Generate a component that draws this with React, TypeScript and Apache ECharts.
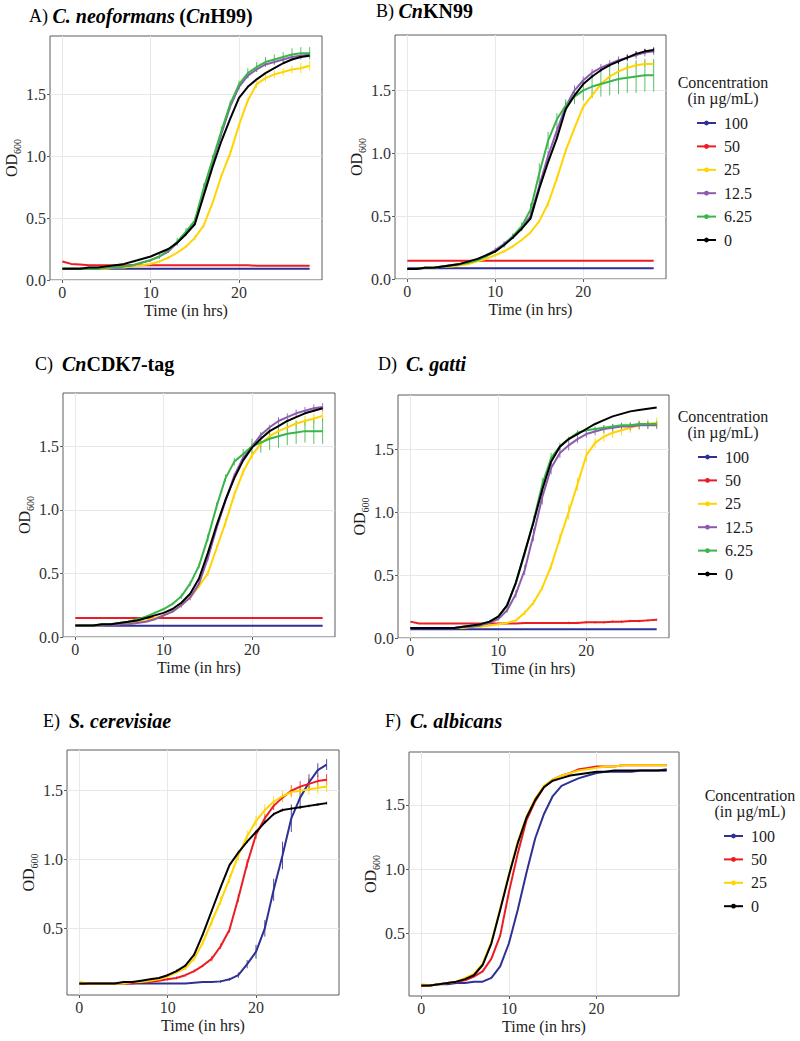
import React, { useEffect, useRef } from "react";
import * as echarts from "echarts";

const SERIF = '"Liberation Serif", "Times New Roman", serif';

// Sampling times (hours)
const TIME = [0, 1, 2, 3, 4, 5, 6, 7, 8, 9, 10, 11, 12, 13, 14, 15, 16, 17, 18, 19, 20, 21, 22, 23, 24, 25, 26, 27, 28];

const CONC_FULL = ["100", "50", "25", "12.5", "6.25", "0"];
const CONC_SHORT = ["100", "50", "25", "0"];

const X_TICKS = [0, 10, 20];
const Y_TICKS_FULL = [0, 0.5, 1, 1.5];
const Y_TICKS_SHORT = [0.5, 1, 1.5];

const COLORS: Record<string, string> = {
  "100": "#2E3192",
  "50": "#EC1C24",
  "25": "#FFD400",
  "12.5": "#8C5BB0",
  "6.25": "#3AB54A",
  "0": "#000000",
};

// ---- A) C. neoformans (CnH99) ----
const A_100 = [0.09, 0.09, 0.09, 0.09, 0.09, 0.09, 0.09, 0.09, 0.09, 0.09, 0.09, 0.09, 0.09, 0.09, 0.09, 0.09, 0.09, 0.09, 0.09, 0.09, 0.09, 0.09, 0.09, 0.09, 0.09, 0.09, 0.09, 0.09, 0.09];
const A_50 = [0.15, 0.13, 0.125, 0.12, 0.12, 0.12, 0.12, 0.12, 0.12, 0.12, 0.12, 0.12, 0.12, 0.12, 0.12, 0.12, 0.12, 0.12, 0.12, 0.12, 0.12, 0.12, 0.115, 0.115, 0.115, 0.115, 0.115, 0.115, 0.115];
const A_25 = [0.09, 0.09, 0.09, 0.09, 0.09, 0.09, 0.1, 0.1, 0.11, 0.12, 0.13, 0.15, 0.18, 0.22, 0.27, 0.34, 0.44, 0.62, 0.84, 1.02, 1.25, 1.45, 1.58, 1.63, 1.66, 1.68, 1.7, 1.71, 1.73];
const A_12_5 = [0.09, 0.09, 0.09, 0.09, 0.09, 0.1, 0.1, 0.11, 0.12, 0.14, 0.16, 0.19, 0.23, 0.3, 0.38, 0.46, 0.71, 0.95, 1.18, 1.4, 1.56, 1.65, 1.7, 1.74, 1.76, 1.78, 1.8, 1.81, 1.82];
const A_6_25 = [0.09, 0.09, 0.09, 0.09, 0.09, 0.1, 0.1, 0.11, 0.12, 0.14, 0.16, 0.19, 0.24, 0.31, 0.39, 0.48, 0.74, 0.97, 1.2, 1.42, 1.58, 1.67, 1.72, 1.76, 1.78, 1.8, 1.82, 1.83, 1.83];
const A_0 = [0.09, 0.09, 0.09, 0.1, 0.1, 0.11, 0.12, 0.13, 0.15, 0.17, 0.19, 0.22, 0.25, 0.3, 0.37, 0.45, 0.68, 0.91, 1.12, 1.3, 1.47, 1.56, 1.62, 1.67, 1.71, 1.75, 1.78, 1.8, 1.81];
const A_ERR_25 = [0, 0, 0, 0, 0, 0, 0, 0, 0, 0, 0.01, 0.01, 0.01, 0.01, 0.01, 0.02, 0.02, 0.02, 0.02, 0.02, 0.02, 0.02, 0.03, 0.03, 0.03, 0.03, 0.03, 0.04, 0.04];
const A_ERR_12_5 = [0, 0, 0, 0, 0, 0, 0, 0, 0, 0, 0.01, 0.01, 0.01, 0.02, 0.02, 0.02, 0.02, 0.02, 0.02, 0.02, 0.02, 0.02, 0.02, 0.02, 0.02, 0.02, 0.02, 0.02, 0.02];
const A_ERR_6_25 = [0, 0, 0, 0, 0, 0, 0, 0, 0, 0.01, 0.01, 0.02, 0.02, 0.03, 0.03, 0.03, 0.04, 0.04, 0.04, 0.03, 0.03, 0.04, 0.04, 0.04, 0.04, 0.04, 0.05, 0.05, 0.05];

// ---- B) CnKN99 ----
const B_100 = [0.085, 0.085, 0.085, 0.085, 0.085, 0.085, 0.085, 0.085, 0.085, 0.085, 0.085, 0.085, 0.085, 0.085, 0.085, 0.085, 0.085, 0.085, 0.085, 0.085, 0.085, 0.085, 0.085, 0.085, 0.085, 0.085, 0.085, 0.085, 0.085];
const B_50 = [0.145, 0.145, 0.145, 0.145, 0.145, 0.145, 0.145, 0.145, 0.145, 0.145, 0.145, 0.145, 0.145, 0.145, 0.145, 0.145, 0.145, 0.145, 0.145, 0.145, 0.145, 0.145, 0.145, 0.145, 0.145, 0.145, 0.145, 0.145, 0.145];
const B_25 = [0.08, 0.08, 0.09, 0.09, 0.1, 0.1, 0.11, 0.12, 0.14, 0.16, 0.19, 0.22, 0.26, 0.31, 0.37, 0.46, 0.6, 0.8, 1.02, 1.2, 1.37, 1.46, 1.55, 1.61, 1.65, 1.68, 1.7, 1.71, 1.71];
const B_12_5 = [0.08, 0.08, 0.09, 0.09, 0.1, 0.11, 0.12, 0.14, 0.16, 0.19, 0.23, 0.28, 0.34, 0.41, 0.5, 0.74, 0.98, 1.18, 1.37, 1.5, 1.58, 1.64, 1.68, 1.71, 1.74, 1.76, 1.78, 1.8, 1.81];
const B_6_25 = [0.08, 0.08, 0.09, 0.09, 0.1, 0.11, 0.12, 0.13, 0.15, 0.18, 0.22, 0.27, 0.34, 0.42, 0.55, 0.84, 1.1, 1.27, 1.38, 1.45, 1.5, 1.53, 1.55, 1.57, 1.59, 1.6, 1.61, 1.62, 1.62];
const B_0 = [0.08, 0.08, 0.09, 0.09, 0.1, 0.11, 0.12, 0.14, 0.16, 0.19, 0.22, 0.27, 0.33, 0.4, 0.48, 0.72, 0.93, 1.12, 1.35, 1.46, 1.55, 1.61, 1.66, 1.7, 1.73, 1.76, 1.79, 1.81, 1.82];
const B_ERR_25 = [0, 0, 0, 0, 0, 0, 0, 0, 0, 0, 0.01, 0.01, 0.01, 0.01, 0.01, 0.01, 0.02, 0.02, 0.02, 0.02, 0.02, 0.02, 0.02, 0.02, 0.02, 0.02, 0.02, 0.02, 0.02];
const B_ERR_12_5 = [0, 0, 0, 0, 0, 0, 0, 0, 0, 0.01, 0.02, 0.02, 0.02, 0.03, 0.03, 0.04, 0.04, 0.04, 0.04, 0.04, 0.03, 0.03, 0.03, 0.03, 0.03, 0.03, 0.03, 0.03, 0.03];
const B_ERR_6_25 = [0, 0, 0, 0, 0, 0, 0, 0, 0, 0.01, 0.01, 0.02, 0.02, 0.03, 0.05, 0.08, 0.07, 0.05, 0.05, 0.06, 0.08, 0.09, 0.1, 0.11, 0.12, 0.12, 0.13, 0.13, 0.13];
const B_ERR_0 = [0, 0, 0, 0, 0, 0, 0, 0, 0, 0, 0.01, 0.01, 0.01, 0.01, 0.01, 0.01, 0.01, 0.01, 0.01, 0.01, 0.01, 0.01, 0.01, 0.01, 0.02, 0.02, 0.02, 0.02, 0.02];

// ---- C) CnCDK7-tag ----
const C_100 = [0.088, 0.088, 0.088, 0.088, 0.088, 0.088, 0.088, 0.088, 0.088, 0.088, 0.088, 0.088, 0.088, 0.088, 0.088, 0.088, 0.088, 0.088, 0.088, 0.088, 0.088, 0.088, 0.088, 0.088, 0.088, 0.088, 0.088, 0.088, 0.088];
const C_50 = [0.15, 0.15, 0.15, 0.15, 0.15, 0.15, 0.15, 0.15, 0.15, 0.15, 0.15, 0.15, 0.15, 0.15, 0.15, 0.15, 0.15, 0.15, 0.15, 0.15, 0.15, 0.15, 0.15, 0.15, 0.15, 0.15, 0.15, 0.15, 0.15];
const C_25 = [0.09, 0.09, 0.09, 0.09, 0.1, 0.1, 0.11, 0.12, 0.13, 0.15, 0.17, 0.2, 0.25, 0.31, 0.4, 0.5, 0.7, 0.9, 1.12, 1.3, 1.43, 1.52, 1.58, 1.62, 1.65, 1.68, 1.7, 1.72, 1.74];
const C_12_5 = [0.09, 0.09, 0.09, 0.09, 0.09, 0.1, 0.1, 0.11, 0.12, 0.14, 0.17, 0.2, 0.25, 0.31, 0.42, 0.62, 0.86, 1.07, 1.27, 1.41, 1.5, 1.59, 1.65, 1.7, 1.73, 1.76, 1.78, 1.8, 1.81];
const C_6_25 = [0.09, 0.09, 0.09, 0.1, 0.1, 0.11, 0.12, 0.14, 0.16, 0.19, 0.22, 0.26, 0.32, 0.42, 0.56, 0.78, 1.03, 1.25, 1.38, 1.44, 1.5, 1.53, 1.56, 1.58, 1.6, 1.61, 1.62, 1.62, 1.62];
const C_0 = [0.09, 0.09, 0.09, 0.1, 0.1, 0.11, 0.12, 0.13, 0.15, 0.17, 0.19, 0.22, 0.27, 0.34, 0.46, 0.66, 0.88, 1.08, 1.25, 1.39, 1.49, 1.56, 1.62, 1.66, 1.7, 1.73, 1.76, 1.78, 1.8];
const C_ERR_25 = [0, 0, 0, 0, 0, 0, 0, 0, 0, 0, 0.01, 0.01, 0.01, 0.02, 0.02, 0.02, 0.02, 0.03, 0.03, 0.03, 0.03, 0.03, 0.03, 0.03, 0.03, 0.03, 0.04, 0.04, 0.04];
const C_ERR_12_5 = [0, 0, 0, 0, 0, 0, 0, 0, 0, 0, 0.01, 0.01, 0.02, 0.02, 0.02, 0.02, 0.02, 0.02, 0.02, 0.02, 0.02, 0.02, 0.02, 0.03, 0.03, 0.03, 0.03, 0.03, 0.03];
const C_ERR_6_25 = [0, 0, 0, 0, 0, 0, 0, 0.01, 0.01, 0.01, 0.01, 0.01, 0.02, 0.02, 0.02, 0.03, 0.03, 0.03, 0.03, 0.04, 0.06, 0.08, 0.09, 0.09, 0.09, 0.09, 0.09, 0.1, 0.1];

// ---- D) C. gatti ----
const D_100 = [0.07, 0.07, 0.07, 0.07, 0.07, 0.07, 0.07, 0.07, 0.07, 0.07, 0.07, 0.07, 0.07, 0.07, 0.07, 0.07, 0.07, 0.07, 0.07, 0.07, 0.07, 0.07, 0.07, 0.07, 0.07, 0.07, 0.07, 0.07, 0.07];
const D_50 = [0.13, 0.115, 0.115, 0.115, 0.115, 0.115, 0.115, 0.115, 0.115, 0.115, 0.115, 0.115, 0.115, 0.12, 0.12, 0.12, 0.12, 0.12, 0.12, 0.12, 0.125, 0.125, 0.125, 0.13, 0.13, 0.135, 0.135, 0.14, 0.145];
const D_25 = [0.08, 0.08, 0.08, 0.08, 0.08, 0.08, 0.08, 0.09, 0.09, 0.1, 0.11, 0.12, 0.14, 0.2, 0.28, 0.4, 0.57, 0.79, 1.0, 1.22, 1.45, 1.55, 1.6, 1.63, 1.65, 1.67, 1.69, 1.7, 1.71];
const D_12_5 = [0.08, 0.08, 0.08, 0.08, 0.08, 0.08, 0.09, 0.09, 0.1, 0.12, 0.15, 0.22, 0.35, 0.54, 0.82, 1.12, 1.35, 1.47, 1.53, 1.58, 1.62, 1.64, 1.66, 1.67, 1.68, 1.68, 1.69, 1.69, 1.69];
const D_6_25 = [0.08, 0.08, 0.08, 0.08, 0.08, 0.08, 0.09, 0.1, 0.11, 0.13, 0.17, 0.26, 0.44, 0.67, 0.93, 1.22, 1.43, 1.52, 1.58, 1.63, 1.65, 1.66, 1.67, 1.68, 1.69, 1.69, 1.7, 1.7, 1.7];
const D_0 = [0.08, 0.08, 0.08, 0.08, 0.08, 0.08, 0.09, 0.1, 0.11, 0.13, 0.17, 0.26, 0.44, 0.68, 0.92, 1.18, 1.4, 1.52, 1.58, 1.62, 1.66, 1.7, 1.73, 1.76, 1.78, 1.8, 1.81, 1.82, 1.83];
const D_ERR_50 = [0, 0, 0, 0, 0, 0, 0, 0, 0, 0, 0, 0, 0, 0, 0, 0, 0, 0, 0.01, 0.01, 0.01, 0.01, 0.01, 0.01, 0.01, 0.01, 0.01, 0.01, 0.01];
const D_ERR_25 = [0, 0, 0, 0, 0, 0, 0, 0, 0, 0, 0.01, 0.01, 0.01, 0.02, 0.02, 0.02, 0.03, 0.04, 0.06, 0.05, 0.05, 0.04, 0.04, 0.04, 0.04, 0.04, 0.04, 0.04, 0.04];
const D_ERR_12_5 = [0, 0, 0, 0, 0, 0, 0, 0, 0, 0, 0.01, 0.02, 0.03, 0.04, 0.05, 0.06, 0.05, 0.04, 0.04, 0.03, 0.03, 0.03, 0.03, 0.03, 0.03, 0.03, 0.03, 0.03, 0.03];
const D_ERR_6_25 = [0, 0, 0, 0, 0, 0, 0, 0, 0, 0, 0.01, 0.02, 0.02, 0.03, 0.04, 0.05, 0.04, 0.03, 0.02, 0.02, 0.02, 0.02, 0.02, 0.02, 0.02, 0.02, 0.02, 0.02, 0.02];

// ---- E) S. cerevisiae ----
const E_100 = [0.1, 0.1, 0.1, 0.1, 0.1, 0.1, 0.1, 0.1, 0.1, 0.1, 0.1, 0.1, 0.1, 0.105, 0.11, 0.11, 0.115, 0.13, 0.16, 0.24, 0.33, 0.5, 0.78, 1.03, 1.3, 1.45, 1.56, 1.65, 1.69];
const E_50 = [0.1, 0.1, 0.1, 0.1, 0.1, 0.1, 0.1, 0.11, 0.11, 0.12, 0.13, 0.14, 0.16, 0.19, 0.23, 0.28, 0.37, 0.49, 0.72, 0.97, 1.18, 1.3, 1.39, 1.45, 1.5, 1.53, 1.55, 1.57, 1.58];
const E_25 = [0.11, 0.1, 0.1, 0.1, 0.1, 0.1, 0.11, 0.11, 0.12, 0.13, 0.15, 0.18, 0.21, 0.28, 0.4, 0.55, 0.7, 0.86, 1.03, 1.17, 1.28, 1.36, 1.42, 1.46, 1.49, 1.5, 1.51, 1.52, 1.53];
const E_0 = [0.1, 0.1, 0.1, 0.1, 0.1, 0.11, 0.11, 0.12, 0.13, 0.14, 0.16, 0.19, 0.23, 0.31, 0.46, 0.63, 0.8, 0.96, 1.05, 1.13, 1.2, 1.27, 1.33, 1.36, 1.37, 1.38, 1.39, 1.4, 1.41];
const E_ERR_100 = [0, 0, 0, 0, 0, 0, 0, 0, 0, 0, 0, 0, 0, 0, 0, 0, 0.01, 0.01, 0.02, 0.03, 0.05, 0.06, 0.08, 0.1, 0.1, 0.08, 0.06, 0.05, 0.04];
const E_ERR_50 = [0, 0, 0, 0, 0, 0, 0, 0, 0, 0, 0.01, 0.01, 0.01, 0.01, 0.01, 0.02, 0.02, 0.02, 0.03, 0.03, 0.03, 0.03, 0.03, 0.03, 0.04, 0.04, 0.04, 0.04, 0.04];
const E_ERR_25 = [0, 0, 0, 0, 0, 0, 0, 0, 0, 0, 0.01, 0.01, 0.01, 0.02, 0.02, 0.03, 0.03, 0.03, 0.04, 0.04, 0.04, 0.04, 0.04, 0.04, 0.04, 0.04, 0.04, 0.04, 0.04];
const E_ERR_0 = [0, 0, 0, 0, 0, 0, 0, 0, 0, 0, 0.01, 0.01, 0.01, 0.01, 0.01, 0.01, 0.01, 0.01, 0.01, 0.01, 0.01, 0.01, 0.01, 0.01, 0.01, 0.01, 0.01, 0.01, 0.01];

// ---- F) C. albicans ----
const F_100 = [0.09, 0.09, 0.1, 0.1, 0.11, 0.11, 0.12, 0.12, 0.15, 0.24, 0.42, 0.68, 0.97, 1.24, 1.43, 1.57, 1.65, 1.68, 1.71, 1.73, 1.75, 1.76, 1.76, 1.76, 1.76, 1.77, 1.77, 1.77, 1.78];
const F_50 = [0.09, 0.09, 0.1, 0.11, 0.12, 0.13, 0.16, 0.2, 0.3, 0.48, 0.82, 1.12, 1.38, 1.53, 1.64, 1.7, 1.73, 1.75, 1.78, 1.79, 1.8, 1.8, 1.8, 1.81, 1.81, 1.81, 1.81, 1.81, 1.81];
const F_25 = [0.1, 0.09, 0.1, 0.11, 0.12, 0.15, 0.18, 0.26, 0.43, 0.69, 0.96, 1.21, 1.41, 1.55, 1.65, 1.7, 1.73, 1.75, 1.77, 1.78, 1.79, 1.8, 1.8, 1.81, 1.81, 1.81, 1.81, 1.81, 1.81];
const F_0 = [0.09, 0.09, 0.1, 0.11, 0.12, 0.14, 0.17, 0.25, 0.42, 0.68, 0.95, 1.2, 1.4, 1.54, 1.64, 1.69, 1.71, 1.73, 1.74, 1.75, 1.76, 1.76, 1.77, 1.77, 1.77, 1.77, 1.77, 1.77, 1.77];

interface Curve {
  conc: string;
  values: number[];
  err?: number[];
}

interface Panel {
  title: string;
  curves: Curve[];
  yMin: number;
  yMax: number;
  yTicks: number[];
}

const PANELS: Panel[] = [
  {
    title: "{n|A)} {bi|C. neoformans} {b|(}{bi|Cn}{b|H99)}",
    yMin: 0, yMax: 1.97, yTicks: Y_TICKS_FULL,
    curves: [
      { conc: "100", values: A_100 },
      { conc: "50", values: A_50 },
      { conc: "25", values: A_25, err: A_ERR_25 },
      { conc: "12.5", values: A_12_5, err: A_ERR_12_5 },
      { conc: "6.25", values: A_6_25, err: A_ERR_6_25 },
      { conc: "0", values: A_0 },
    ],
  },
  {
    title: "{n|B)} {bi|Cn}{b|KN99}",
    yMin: 0, yMax: 1.94, yTicks: Y_TICKS_FULL,
    curves: [
      { conc: "100", values: B_100 },
      { conc: "50", values: B_50 },
      { conc: "25", values: B_25, err: B_ERR_25 },
      { conc: "12.5", values: B_12_5, err: B_ERR_12_5 },
      { conc: "6.25", values: B_6_25, err: B_ERR_6_25 },
      { conc: "0", values: B_0, err: B_ERR_0 },
    ],
  },
  {
    title: "{n|C)}  {bi|Cn}{b|CDK7-tag}",
    yMin: 0, yMax: 1.92, yTicks: Y_TICKS_FULL,
    curves: [
      { conc: "100", values: C_100 },
      { conc: "50", values: C_50 },
      { conc: "25", values: C_25, err: C_ERR_25 },
      { conc: "12.5", values: C_12_5, err: C_ERR_12_5 },
      { conc: "6.25", values: C_6_25, err: C_ERR_6_25 },
      { conc: "0", values: C_0 },
    ],
  },
  {
    title: "{n|D)}  {bi|C. gatti}",
    yMin: 0, yMax: 1.93, yTicks: Y_TICKS_FULL,
    curves: [
      { conc: "100", values: D_100 },
      { conc: "50", values: D_50, err: D_ERR_50 },
      { conc: "25", values: D_25, err: D_ERR_25 },
      { conc: "12.5", values: D_12_5, err: D_ERR_12_5 },
      { conc: "6.25", values: D_6_25, err: D_ERR_6_25 },
      { conc: "0", values: D_0 },
    ],
  },
  {
    title: "{n|E)}  {bi|S. cerevisiae}",
    yMin: 0.016, yMax: 1.796, yTicks: Y_TICKS_SHORT,
    curves: [
      { conc: "100", values: E_100, err: E_ERR_100 },
      { conc: "50", values: E_50, err: E_ERR_50 },
      { conc: "25", values: E_25, err: E_ERR_25 },
      { conc: "0", values: E_0, err: E_ERR_0 },
    ],
  },
  {
    title: "{n|F)}  {bi|C. albicans}",
    yMin: 0.008, yMax: 1.914, yTicks: Y_TICKS_SHORT,
    curves: [
      { conc: "100", values: F_100 },
      { conc: "50", values: F_50 },
      { conc: "25", values: F_25 },
      { conc: "0", values: F_0 },
    ],
  },
];

// Plot boxes and title anchors, in page pixels
const BOXES = [
  { left: 50, top: 36, width: 272, height: 244, titleX: 29, titleY: 6 },
  { left: 395, top: 35, width: 271, height: 244, titleX: 376, titleY: 1 },
  { left: 63, top: 393, width: 272, height: 244, titleX: 35, titleY: 354 },
  { left: 398, top: 395, width: 271, height: 243, titleX: 378, titleY: 354 },
  { left: 67, top: 750, width: 272, height: 245, titleX: 43, titleY: 711 },
  { left: 409, top: 752, width: 270, height: 244, titleX: 385, titleY: 711 },
];

const LEGENDS = [
  { items: CONC_FULL, iconLeft: 696, firstY: 123, headX: 723, headY: 90 },
  { items: CONC_FULL, iconLeft: 697, firstY: 457, headX: 723, headY: 424 },
  { items: CONC_SHORT, iconLeft: 723, firstY: 836, headX: 750, headY: 803 },
];

function buildOption(): echarts.EChartsOption {
  const titleRich = {
    n: { fontFamily: SERIF, fontSize: 18, color: "#000", fontWeight: "normal" as const },
    bi: { fontFamily: SERIF, fontSize: 20, color: "#000", fontWeight: "bold" as const, fontStyle: "italic" as const },
    b: { fontFamily: SERIF, fontSize: 20, color: "#000", fontWeight: "bold" as const },
  };

  const title = PANELS.map((p, i) => ({
    text: p.title,
    left: BOXES[i].titleX,
    top: BOXES[i].titleY,
    padding: 0,
    textStyle: { fontFamily: SERIF, fontSize: 18, color: "#000", fontWeight: "normal" as const, rich: titleRich },
  }));

  const grid = BOXES.map((b) => ({
    left: b.left,
    top: b.top,
    width: b.width,
    height: b.height,
    show: true,
    borderColor: "#5c5c5c",
    borderWidth: 1,
    backgroundColor: "#ffffff",
  }));

  const xAxis = PANELS.map((_, i) => ({
    type: "value" as const,
    gridIndex: i,
    min: -1.4,
    max: 29.4,
    name: "Time (in hrs)",
    nameLocation: "middle" as const,
    nameGap: 22,
    nameTextStyle: { fontFamily: SERIF, fontSize: 16, color: "#1a1a1a" },
    axisLine: { show: false, onZero: false },
    axisTick: { show: true, length: 3, lineStyle: { color: "#5c5c5c" }, customValues: X_TICKS },
    axisLabel: { fontFamily: SERIF, fontSize: 16, color: "#333", margin: 4, customValues: X_TICKS },
    splitLine: { show: true, lineStyle: { color: "#e8e8e8", width: 1 } },
  }));

  const yAxis = PANELS.map((p, i) => ({
    type: "value" as const,
    gridIndex: i,
    min: p.yMin,
    max: p.yMax,
    name: "{a|OD}{s|600}",
    nameLocation: "middle" as const,
    nameRotate: 90,
    nameGap: 26,
    nameTextStyle: {
      fontFamily: SERIF,
      color: "#1a1a1a",
      rich: {
        a: { fontFamily: SERIF, fontSize: 16, color: "#1a1a1a", lineHeight: 22 },
        s: { fontFamily: SERIF, fontSize: 10, color: "#1a1a1a", lineHeight: 12, verticalAlign: "bottom" as const },
      },
    },
    axisLine: { show: false, onZero: false },
    axisTick: { show: true, length: 3, lineStyle: { color: "#5c5c5c" }, customValues: p.yTicks },
    axisLabel: {
      fontFamily: SERIF,
      fontSize: 16,
      color: "#333",
      margin: 4,
      customValues: p.yTicks,
      formatter: (v: number) => v.toFixed(1),
    },
    splitLine: { show: true, lineStyle: { color: "#e8e8e8", width: 1 } },
  }));

  const series: any[] = [];
  PANELS.forEach((p, i) => {
    p.curves.forEach((c) => {
      const color = COLORS[c.conc];
      if (c.err) {
        const err = c.err;
        const bars = TIME.map((t, k) => [t, c.values[k] - err[k], c.values[k] + err[k]]).filter((_, k) => err[k] > 0);
        series.push({
          type: "custom",
          name: `sd-${i}-${c.conc}`,
          xAxisIndex: i,
          yAxisIndex: i,
          silent: true,
          clip: true,
          encode: { x: 0, y: [1, 2] },
          data: bars,
          renderItem: (_params: any, api: any) => {
            const x = api.value(0);
            const lo = api.coord([x, api.value(1)]);
            const hi = api.coord([x, api.value(2)]);
            return {
              type: "line",
              shape: { x1: lo[0], y1: lo[1], x2: hi[0], y2: hi[1] },
              style: { stroke: color, lineWidth: 1, opacity: 0.85 },
            };
          },
        });
      }
      series.push({
        type: "line",
        name: c.conc,
        xAxisIndex: i,
        yAxisIndex: i,
        data: TIME.map((t, k) => [t, c.values[k]]),
        symbol: "circle",
        showSymbol: false,
        silent: true,
        color,
        itemStyle: { color },
        lineStyle: { color, width: 2 },
      });
    });
  });

  const legend = LEGENDS.map((l) => ({
    data: l.items,
    orient: "vertical" as const,
    left: l.iconLeft,
    top: l.firstY - 8,
    padding: 0,
    itemWidth: 19,
    itemHeight: 6,
    itemGap: 7.4,
    selectedMode: false,
    textStyle: { fontFamily: SERIF, fontSize: 16, color: "#1a1a1a", lineHeight: 16, padding: [0, 0, 0, 3] },
  }));

  const graphic = LEGENDS.map((l) => ({
    type: "text" as const,
    x: l.headX,
    y: l.headY,
    silent: true,
    style: {
      text: "Concentration\n(in µg/mL)",
      align: "center",
      verticalAlign: "middle",
      fontFamily: SERIF,
      fontSize: 16,
      lineHeight: 16,
      fill: "#1a1a1a",
    },
  }));

  return {
    animation: false,
    backgroundColor: "#ffffff",
    title,
    grid,
    xAxis,
    yAxis,
    legend,
    graphic,
    series,
  } as echarts.EChartsOption;
}

export default function App() {
  const ref = useRef<HTMLDivElement>(null);
  useEffect(() => {
    if (!ref.current) return;
    const chart = echarts.init(ref.current, undefined, { renderer: "svg" });
    chart.setOption(buildOption());
    return () => chart.dispose();
  }, []);
  return (
    <div
      ref={ref}
      style={{ position: "absolute", left: 0, top: 0, width: 800, height: 1041, background: "#fff" }}
    />
  );
}
